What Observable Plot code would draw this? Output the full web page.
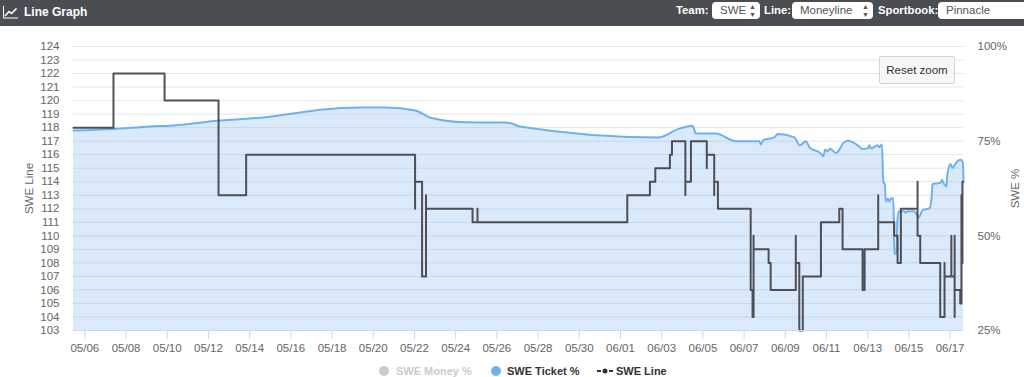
<!DOCTYPE html>
<html><head><meta charset="utf-8">
<script src="https://cdn.jsdelivr.net/npm/d3@7"></script>
<script src="https://cdn.jsdelivr.net/npm/@observablehq/plot@0.6"></script>
<style>
html,body{margin:0;padding:0;background:#fff;width:1024px;height:377px;overflow:hidden;font-family:"Liberation Sans",Arial,sans-serif}
#hdr{position:absolute;left:0;top:0;width:1024px;height:26px;background:#4a4d52;color:#fff}
#hdr span,#hdr div{position:absolute;white-space:nowrap}
.lab{top:4px;font-size:11.3px;font-weight:bold;color:#fff}
.box{top:2px;height:17px;line-height:17px;background:#fff;border-radius:4px;color:#555;font-size:11.5px;padding-left:8px;box-sizing:border-box}
.arr{position:absolute;right:4px;top:0;font-size:7px;line-height:8px;color:#555;padding-top:1px}
#chart{position:absolute;left:0;top:26px}
#reset{position:absolute;left:879px;top:56px;width:76px;height:28px;box-sizing:border-box;background:#f7f7f7;border:1px solid #d4d4d4;border-radius:2px;font-size:11.5px;line-height:26px;text-align:center;color:#333}
.lg{position:absolute;top:364px;font-size:11px;font-weight:bold;line-height:14px;color:#333;white-space:nowrap}
.dot{position:absolute;top:366px;width:10px;height:10px;border-radius:50%}
</style></head><body>
<div id="hdr">
  <svg style="position:absolute;left:3px;top:6px" width="15" height="13" viewBox="0 0 15 13"><path d="M.5 0V12H15" fill="none" stroke="#fff"/><path d="M2 10L6 5.5L8.5 7.5L13.5 2.5" fill="none" stroke="#fff" stroke-width="1.6"/></svg>
  <span class="lab" style="left:24px;top:5px;font-size:12px">Line Graph</span>
  <span class="lab" style="left:676px">Team:</span>
  <div class="box" style="left:712px;width:48px">SWE<span class="arr">▲<br>▼</span></div>
  <span class="lab" style="left:764px">Line:</span>
  <div class="box" style="left:792px;width:81px">Moneyline<span class="arr">▲<br>▼</span></div>
  <span class="lab" style="left:878px">Sportbook:</span>
  <div class="box" style="left:938px;width:86px;border-radius:4px 0 0 4px">Pinnacle</div>
</div>
<div id="chart"></div>
<div id="reset">Reset zoom</div>
<div class="dot" style="left:379px;background:#ccc"></div>
<div class="lg" style="left:396px;color:#ccc">SWE Money %</div>
<div class="dot" style="left:491px;background:#6db2f0"></div>
<div class="lg" style="left:507px">SWE Ticket %</div>
<svg style="position:absolute;left:597px;top:367px" width="16" height="8"><path d="M0 4H16" stroke="#333" stroke-width="2" stroke-dasharray="4 2"/><circle cx="8" cy="4" r="2.5" fill="#333"/></svg>
<div class="lg" style="left:616px">SWE Line</div>
<script>
// Days since 05/06 on the time axis
const tickDays = d3.range(0, 43, 2);
const tickLabels = ["05/06","05/08","05/10","05/12","05/14","05/16","05/18","05/20","05/22","05/24","05/26","05/28","05/30","06/01","06/03","06/05","06/07","06/09","06/11","06/13","06/15","06/17"];
const lineTicks = d3.range(103, 125);
const pctTicks = [25, 50, 75, 100];

const lineDays = [-0.55,1.39,3.87,6.49,7.83,16.03,16.03,16.37,16.56,16.56,18.82,19.06,19.06,26.33,27.43,27.69,28.40,28.50,29.15,29.15,29.42,30.19,30.19,30.55,30.55,30.73,32.32,32.41,32.46,32.46,33.19,33.29,34.51,34.51,34.68,34.85,35.73,36.62,36.78,37.75,37.85,38.51,38.51,39.29,39.45,39.61,40.42,40.42,40.55,41.52,41.73,41.73,42.06,42.06,42.22,42.22,42.22,42.49,42.55,42.55,42.60,42.65];
const lineValues = [118,122,120,113,116,112,114,107,113,112,111,112,111,113,114,115,116,117,113,114,117,115,116,113,114,112,106,104,110,109,108,106,110,108,103,107,111,112,109,106,109,113,111,110,108,112,114,110,108,104,108,107,110,107,110,104,106,105,113,108,114,114];

const ticketDays = [-0.55,1.39,3.19,4.16,6.44,8.53,10.47,11.44,13.38,14.60,16.05,16.78,18.48,20.42,20.76,21.10,27.88,28.04,28.85,29.50,29.66,30.63,31.60,32.74,32.82,32.93,33.47,33.63,34.44,34.71,35.00,35.17,35.73,35.84,35.94,36.05,36.17,36.46,36.86,37.02,37.59,37.75,38.00,38.08,38.16,38.48,38.56,38.69,38.76,38.83,38.88,38.98,39.06,39.15,39.24,39.27,39.29,39.39,39.44,39.51,39.76,39.84,39.92,40.24,40.49,40.65,41.02,41.10,41.15,41.54,41.60,41.70,41.82,41.86,42.02,42.11,42.35,42.51,42.62,42.65];
const ticketPct = [77.8,78.2,78.9,79.1,80.4,81.2,82.6,83.3,83.9,83.9,83.1,81.2,80.0,79.9,79.6,78.9,76.0,76.2,78.3,79.1,77.0,77.0,75.0,75.0,74.1,75.3,76.0,76.9,76.0,73.9,75.0,73.4,71.7,71.0,72.8,72.3,73.0,71.9,74.7,75.1,73.6,72.9,73.1,73.9,73.1,73.9,73.4,74.1,64.2,63.7,59.1,59.8,59.1,59.9,59.9,54.0,45.3,45.3,54.0,56.5,56.5,56.1,56.5,56.5,54.9,56.7,57.4,60.2,63.7,64.0,64.8,63.7,63.0,65.9,69.0,68.0,69.7,70.1,69.4,64.6];

// The right-hand percent axis shares the chart height with the left-hand line axis
const pctToLine = p => 103 + (p - 25) / 75 * 21;
const ticket = ticketDays.map((d, i) => ({d, v: pctToLine(ticketPct[i])}));
const line = lineDays.map((d, i) => ({d, v: lineValues[i]}));

const font = {fontSize: 11.5, fill: "#666"};
const chart = Plot.plot({
  width: 1024, height: 331,
  marginLeft: 73, marginRight: 61, marginTop: 20, marginBottom: 27,
  style: {fontFamily: "'Liberation Sans', Arial, sans-serif", fontSize: "11.5px", background: "transparent", overflow: "visible"},
  x: {domain: [-0.55, 42.65]},
  y: {domain: [103, 124]},
  marks: [
    Plot.ruleY(lineTicks, {stroke: "#e6e6e6", strokeWidth: 1}),
    Plot.areaY(ticket, {x: "d", y1: 103, y2: "v", fill: "#7cb5ec", fillOpacity: 0.28, curve: "monotone-x"}),
    Plot.line(ticket, {x: "d", y: "v", stroke: "#6db2f0", strokeWidth: 2, curve: "monotone-x"}),
    Plot.line(line, {x: "d", y: "v", stroke: "#3e3e44", strokeWidth: 2, curve: "step-after", strokeOpacity: 0.9}),
    Plot.ruleY([103], {stroke: "#ccd6eb"}),
    Plot.axisX({ticks: tickDays, tickFormat: d => tickLabels[d / 2], tickSize: 9, tickPadding: 4, stroke: "#ccd6eb", label: null, ...font, tickRotate: 0}),
    Plot.axisY({ticks: lineTicks, tickSize: 0, tickPadding: 14, label: "SWE Line", labelAnchor: "center", labelArrow: "none", labelOffset: 49, ...font}),
    Plot.axisY({anchor: "right", ticks: pctTicks.map(pctToLine), tickFormat: v => pctTicks[Math.round((v - 103) / 7)] + "%", tickSize: 0, tickPadding: 14, label: "SWE %", labelAnchor: "center", labelArrow: "none", labelOffset: 55, ...font})
  ]
});
document.getElementById("chart").appendChild(chart);
</script>
</body></html>
